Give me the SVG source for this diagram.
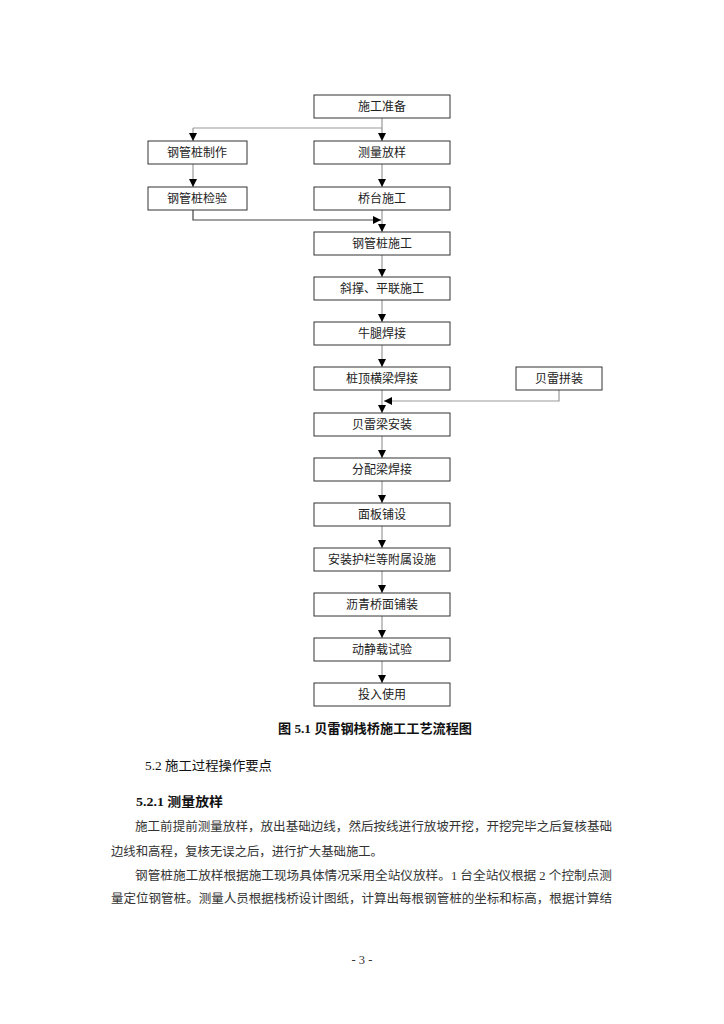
<svg xmlns="http://www.w3.org/2000/svg" width="724" height="1024" viewBox="0 0 724 1024">
<defs>
<marker id="ah" markerUnits="userSpaceOnUse" markerWidth="8" markerHeight="8" refX="8" refY="4" orient="auto">
<path d="M0,0 L8,4 L0,8 z" fill="#000"/>
</marker>
<style>
.box{fill:#fff;stroke:#333;stroke-width:1}
.lbl{font-family:"Noto Sans CJK SC","Liberation Serif",serif;font-size:12px;fill:#222;text-anchor:middle}
.ln{fill:none;stroke:#999;stroke-width:1.2}
.lnd{fill:none;stroke:#444;stroke-width:1.2}
.arr{marker-end:url(#ah)}
.body{font-family:"Liberation Serif","Noto Sans CJK SC",serif;font-size:12.5px;fill:#333}
.hd{font-family:"Liberation Serif","Noto Sans CJK SC",serif;font-size:13px;fill:#111}
</style>
</defs>
<rect width="724" height="1024" fill="#fff"/>

<g id="connectors">
<path class="ln" d="M382,118 V128 H193"/>
<path class="ln arr" d="M382,128 V141"/>
<path class="ln arr" d="M193,128 V141"/>
<path class="ln arr" d="M382,164 V187"/>
<path class="ln arr" d="M193,164 V187"/>
<path class="ln arr" d="M382,210 V232"/>
<path class="lnd arr" d="M193,210 V220 H381"/>
<path class="ln arr" d="M382,255 V277"/>
<path class="ln arr" d="M382,300 V322"/>
<path class="ln arr" d="M382,345 V367"/>
<path class="ln arr" d="M382,390 V413"/>
<path class="ln arr" d="M559,390 V401 H384"/>
<path class="ln arr" d="M382,436 V458"/>
<path class="ln arr" d="M382,481 V503"/>
<path class="ln arr" d="M382,526 V548"/>
<path class="ln arr" d="M382,571 V593"/>
<path class="ln arr" d="M382,616 V638"/>
<path class="ln arr" d="M382,661 V683"/>
</g>

<g id="n1"><rect class="box" x="314" y="95" width="136" height="23"/><text class="lbl" x="382" y="111">施工准备</text></g>
<g id="n2"><rect class="box" x="148" y="141" width="99" height="23"/><text class="lbl" x="197" y="157">钢管桩制作</text></g>
<g id="n3"><rect class="box" x="314" y="141" width="136" height="23"/><text class="lbl" x="382" y="157">测量放样</text></g>
<g id="n4"><rect class="box" x="148" y="187" width="99" height="23"/><text class="lbl" x="197" y="203">钢管桩检验</text></g>
<g id="n5"><rect class="box" x="314" y="187" width="136" height="23"/><text class="lbl" x="382" y="203">桥台施工</text></g>
<g id="n6"><rect class="box" x="314" y="232" width="136" height="23"/><text class="lbl" x="382" y="248">钢管桩施工</text></g>
<g id="n7"><rect class="box" x="314" y="277" width="136" height="23"/><text class="lbl" x="382" y="293">斜撑、平联施工</text></g>
<g id="n8"><rect class="box" x="314" y="322" width="136" height="23"/><text class="lbl" x="382" y="338">牛腿焊接</text></g>
<g id="n9"><rect class="box" x="314" y="367" width="136" height="23"/><text class="lbl" x="382" y="383">桩顶横梁焊接</text></g>
<g id="n10"><rect class="box" x="516" y="367" width="86" height="23"/><text class="lbl" x="559" y="383">贝雷拼装</text></g>
<g id="n11"><rect class="box" x="314" y="413" width="136" height="23"/><text class="lbl" x="382" y="429">贝雷梁安装</text></g>
<g id="n12"><rect class="box" x="314" y="458" width="136" height="23"/><text class="lbl" x="382" y="474">分配梁焊接</text></g>
<g id="n13"><rect class="box" x="314" y="503" width="136" height="23"/><text class="lbl" x="382" y="519">面板铺设</text></g>
<g id="n14"><rect class="box" x="314" y="548" width="136" height="23"/><text class="lbl" x="382" y="564">安装护栏等附属设施</text></g>
<g id="n15"><rect class="box" x="314" y="593" width="136" height="23"/><text class="lbl" x="382" y="609">沥青桥面铺装</text></g>
<g id="n16"><rect class="box" x="314" y="638" width="136" height="23"/><text class="lbl" x="382" y="654">动静载试验</text></g>
<g id="n17"><rect class="box" x="314" y="683" width="136" height="23"/><text class="lbl" x="382" y="699">投入使用</text></g>

<g id="text">
<text class="hd" x="278" y="733" font-weight="bold" textLength="194" lengthAdjust="spacingAndGlyphs">图 5.1 贝雷钢栈桥施工工艺流程图</text>
<text class="hd" x="145" y="770" textLength="127" lengthAdjust="spacingAndGlyphs">5.2 施工过程操作要点</text>
<text class="hd" x="136" y="806" font-weight="bold" textLength="87" lengthAdjust="spacingAndGlyphs">5.2.1 测量放样</text>
<text class="body" x="135" y="831" textLength="477" lengthAdjust="spacingAndGlyphs">施工前提前测量放样，放出基础边线，然后按线进行放坡开挖，开挖完毕之后复核基础</text>
<text class="body" x="111" y="856" textLength="272" lengthAdjust="spacingAndGlyphs">边线和高程，复核无误之后，进行扩大基础施工。</text>
<text class="body" x="135" y="880" textLength="477" lengthAdjust="spacingAndGlyphs">钢管桩施工放样根据施工现场具体情况采用全站仪放样。1 台全站仪根据 2 个控制点测</text>
<text class="body" x="111" y="903" textLength="501" lengthAdjust="spacingAndGlyphs">量定位钢管桩。测量人员根据栈桥设计图纸，计算出每根钢管桩的坐标和标高，根据计算结</text>
<text class="body" x="362" y="964" text-anchor="middle">- 3 -</text>
</g>
</svg>
